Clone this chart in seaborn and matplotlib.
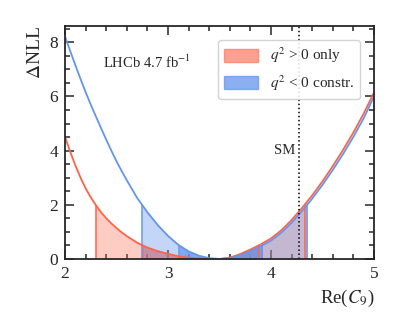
import numpy as np
import pandas as pd
import matplotlib
matplotlib.use('Agg')
import matplotlib.pyplot as plt
from matplotlib.patches import Patch
from matplotlib.ticker import MultipleLocator
import seaborn as sns

# Re(C9) scan points and Delta NLL
re_c9 = [2.0, 2.05, 2.1, 2.15, 2.2, 2.25, 2.3, 2.35, 2.4, 2.45, 2.5, 2.55,
         2.6, 2.7, 2.8, 2.9, 3.0, 3.1, 3.2, 3.3, 3.4, 3.5, 3.6, 3.7, 3.8,
         3.9, 4.0, 4.1, 4.2, 4.3, 4.4, 4.5, 4.6, 4.7, 4.8, 4.9, 5.0]
nll_pos = [4.5, 3.95, 3.45, 3.0, 2.6, 2.27, 1.98, 1.72, 1.5, 1.31, 1.14, 0.98,
           0.84, 0.6, 0.42, 0.29, 0.19, 0.1, 0.05, 0.02, 0.005, 0.0, 0.05,
           0.18, 0.35, 0.54, 0.76, 1.06, 1.44, 1.88, 2.35, 2.87, 3.43, 4.03,
           4.67, 5.37, 6.15]
nll_neg = [8.2, 7.67, 7.15, 6.64, 6.15, 5.69, 5.25, 4.82, 4.4, 3.99, 3.6, 3.24,
           2.9, 2.25, 1.72, 1.25, 0.85, 0.52, 0.28, 0.12, 0.03, 0.0, 0.03,
           0.13, 0.29, 0.47, 0.68, 0.97, 1.34, 1.77, 2.23, 2.74, 3.29, 3.88,
           4.51, 5.2, 6.0]

# interval edges (1 and 2 sigma)
pos_2sig = (2.297, 4.326)
pos_1sig = (2.76, 3.879)
neg_2sig = (2.747, 4.35)
neg_1sig = (3.108, 3.914)
sm_c9 = 4.27

labels = [r'$q^2$ > 0 only', r'$q^2$ < 0 constr.']
red = '#FF6347'
blue = '#6495ED'

sns.set_style('ticks')
plt.rcParams['font.family'] = ['Liberation Serif', 'DejaVu Serif']
plt.rcParams['mathtext.fontset'] = 'stix'

df = pd.DataFrame({'x': re_c9, 'pos': nll_pos, 'neg': nll_neg})
xs_all = np.array(re_c9)


def fill_region(ax, lo, hi, curve, color, alpha):
    xs = np.concatenate([[lo], xs_all[(xs_all > lo) & (xs_all < hi)], [hi]])
    ys = np.interp(xs, xs_all, curve)
    ax.fill_between(xs, 0, ys, color=color, alpha=alpha, lw=0)
    ax.vlines([lo, hi], 0, ys[[0, -1]], color=color, lw=1.1)


fig = plt.figure(figsize=(4.07, 3.17), dpi=100)
ax = fig.add_axes([0.160, 0.183, 0.759, 0.735])

fill_region(ax, *pos_2sig, nll_pos, red, 0.32)
fill_region(ax, *pos_1sig, nll_pos, red, 0.6)
fill_region(ax, *neg_2sig, nll_neg, blue, 0.38)
fill_region(ax, *neg_1sig, nll_neg, blue, 0.7)

sns.lineplot(data=df, x='x', y='pos', color=red, lw=1.3, ax=ax)
sns.lineplot(data=df, x='x', y='neg', color=blue, lw=1.3, ax=ax)

ax.axvline(sm_c9, color='k', ls=':', lw=1.1)
ax.text(4.235, 4.0, 'SM', ha='right', va='center', fontsize=10.5)
ax.text(2.37, 7.25, r'LHCb 4.7 fb$^{-1}$', ha='left', va='center', fontsize=10.5)

ax.set_xlim(2, 5)
ax.set_ylim(0, 8.6)
ax.xaxis.set_major_locator(MultipleLocator(1))
ax.xaxis.set_minor_locator(MultipleLocator(0.2))
ax.yaxis.set_major_locator(MultipleLocator(2))
ax.yaxis.set_minor_locator(MultipleLocator(0.5))
ax.tick_params(which='both', direction='in', top=True, right=True, width=1.1)
ax.tick_params(which='major', length=6.5, labelsize=12.5, pad=5)
ax.tick_params(which='minor', length=3.5)
for s in ax.spines.values():
    s.set_linewidth(1.3)

ax.set_xlabel(r'Re($C_9$)', fontsize=13.5, loc='right')
ax.set_ylabel(r'$\Delta$NLL', fontsize=14, loc='top')

handles = [Patch(facecolor=red, edgecolor=red, alpha=0.6),
           Patch(facecolor=blue, edgecolor=blue, alpha=0.75)]
ax.legend(handles, labels, loc='upper right', fontsize=11,
          borderaxespad=0.9, handlelength=2.2, handleheight=0.9,
          fancybox=True, framealpha=0.85)

fig.savefig('out.png', dpi=100)
